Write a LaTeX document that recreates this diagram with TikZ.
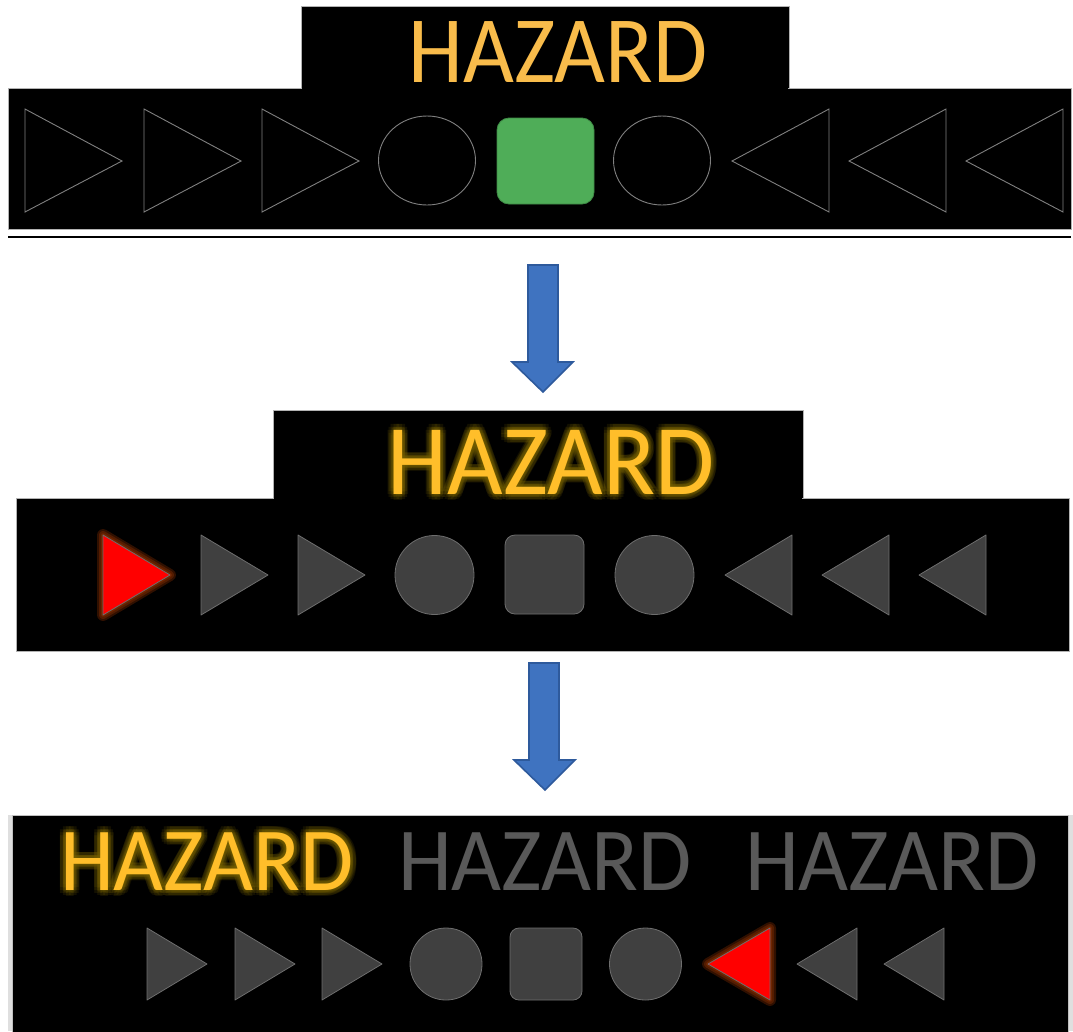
\documentclass[tikz,border=0pt]{standalone}
\usepackage{fontspec}
\setmainfont{Carlito}

\definecolor{amber}{HTML}{F9BC4B}
\definecolor{glowamber}{HTML}{FFBE2A}
\definecolor{haloamber}{HTML}{7A6400}
\definecolor{offgray}{HTML}{404040}
\definecolor{rimgray}{HTML}{6E6E6E}
\definecolor{textgray}{HTML}{595959}
\definecolor{gogreen}{HTML}{4FAD58}
\definecolor{arrowblue}{HTML}{3F73C0}
\definecolor{arrowrim}{HTML}{2E5A9C}
\definecolor{halored}{HTML}{C04000}

\begin{document}
\begin{tikzpicture}[x=1pt,y=-1pt,
    panel/.style={fill=black,draw=gray!60,line width=0.6pt},
    outline/.style={draw=gray,line width=0.9pt},
    lamp off/.style={fill=offgray,draw=rimgray,line width=0.8pt,line join=round},
    lamp red/.style={fill=red,draw=rimgray,line width=0.8pt,line join=round},
    red halo/.style={draw=halored,line join=round,opacity=0.25},
    down arrow/.style={fill=arrowblue,draw=arrowrim,line width=1.6pt,line join=miter},
    hazard/.style={inner sep=0pt,anchor=base},
    halo/.style={hazard,text=haloamber,opacity=0.16}]

  \useasboundingbox (0,0) rectangle (1073,1031);

  % first state: green in the middle
  \draw[panel] (301,6) rectangle (789,90);
  \draw[panel] (8,88) rectangle (1071,229);
  \fill[panel,draw=none] (302,80) rectangle (788,95);
  \draw[line width=2pt] (8,237) -- (1071,237);
  \node[hazard,text=amber,font=\fontsize{95}{95}\selectfont] (title1) at (558,82) {\scalebox{0.925}[1]{HAZARD}};

  \foreach \x in {25,144,262}
    \draw[outline] (\x,109) -- (\x+97,161) -- (\x,212) -- cycle;
  \foreach \x in {732,849,966}
    \draw[outline] (\x,161) -- (\x+97,109) -- (\x+97,212) -- cycle;
  \draw[outline] (427,160.5) ellipse (48.5 and 44.5);
  \draw[outline] (662,160.5) ellipse (48.5 and 44.5);
  \draw[fill=gogreen,draw=gogreen!80!black,line width=0.8pt,rounded corners=12] (497,118) rectangle (594,204);

  \draw[down arrow] (528,265) -- (558,265) -- (558,362) -- (573,362) -- (543,392) -- (512,362) -- (528,362) -- cycle;

  % second state: first left lamp
  \draw[panel] (273,410) rectangle (803,500);
  \draw[panel] (16,498) rectangle (1069,651);
  \fill[panel,draw=none] (274,490) rectangle (802,505);
  \foreach \a in {0,30,...,330}
    \foreach \r in {3,6}
      \node[halo,font=\fontsize{100}{100}\selectfont,shift={(\a:\r)}] (halo2-\a-\r) at (551,494) {\scalebox{0.96}[1]{HAZARD}};
  \node[hazard,text=glowamber,font=\fontsize{100}{100}\selectfont] (title2) at (551,494) {\scalebox{0.96}[1]{HAZARD}};

  \foreach \w in {12,8,4}
    \draw[red halo,line width=\w pt] (103,535) -- (170,575) -- (103,615) -- cycle;
  \draw[lamp red] (103,535) -- (170,575) -- (103,615) -- cycle;
  \foreach \x in {201,298}
    \draw[lamp off] (\x,535) -- (\x+67,575) -- (\x,615) -- cycle;
  \foreach \x in {725,822,919}
    \draw[lamp off] (\x,575) -- (\x+67,535) -- (\x+67,615) -- cycle;
  \draw[lamp off] (434.5,575) circle (39.5);
  \draw[lamp off] (654.5,575) circle (39.5);
  \draw[lamp off,rounded corners=10] (505,535) rectangle (584,614);

  \draw[down arrow] (529,663) -- (559,663) -- (559,760) -- (575,760) -- (545,790) -- (514,760) -- (529,760) -- cycle;

  % third state: first word and right lamp
  \fill[gray!25] (8,815) rectangle (1073,1031);
  \draw[panel,draw=gray!50] (12,815.5) rectangle (1068,1040);
  \foreach \a in {0,30,...,330}
    \foreach \r in {3,6}
      \node[halo,font=\fontsize{90}{90}\selectfont,shift={(\a:\r)}] (halo3-\a-\r) at (207,890) {\scalebox{0.96}[1]{HAZARD}};
  \node[hazard,text=glowamber,font=\fontsize{90}{90}\selectfont] (word1) at (207,890) {\scalebox{0.96}[1]{HAZARD}};
  \node[hazard,text=textgray,font=\fontsize{90}{90}\selectfont] (word2) at (545,890) {\scalebox{0.96}[1]{HAZARD}};
  \node[hazard,text=textgray,font=\fontsize{90}{90}\selectfont] (word3) at (892,890) {\scalebox{0.96}[1]{HAZARD}};

  \foreach \x in {147,235,322}
    \draw[lamp off] (\x,928) -- (\x+60,964) -- (\x,1000) -- cycle;
  \foreach \w in {12,8,4}
    \draw[red halo,line width=\w pt] (708,964) -- (770,928) -- (770,1000) -- cycle;
  \draw[lamp red] (708,964) -- (770,928) -- (770,1000) -- cycle;
  \foreach \x in {797,884}
    \draw[lamp off] (\x,964) -- (\x+60,928) -- (\x+60,1000) -- cycle;
  \draw[lamp off] (446,964) circle (36);
  \draw[lamp off] (645.5,964) circle (36);
  \draw[lamp off,rounded corners=9] (510,928) rectangle (582,1000);
\end{tikzpicture}
\end{document}
